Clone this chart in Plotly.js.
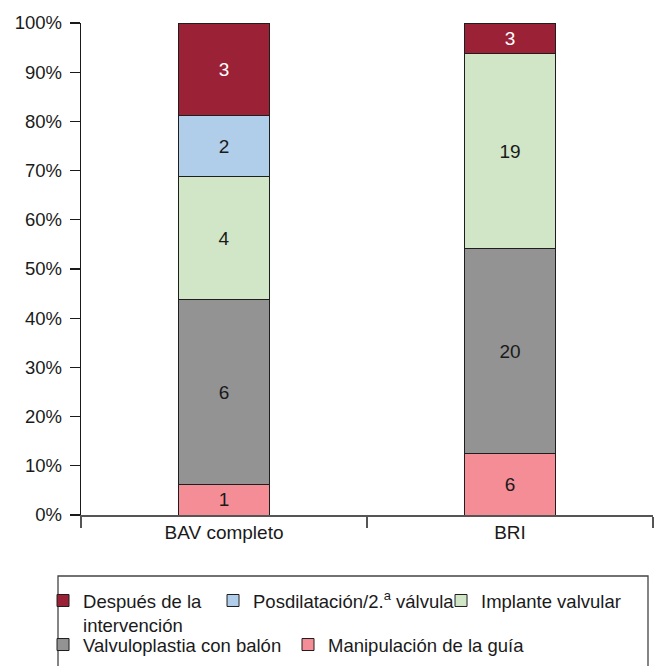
<!DOCTYPE html>
<html>
<head>
<meta charset="utf-8">
<script src="https://cdn.plot.ly/plotly-3.0.1.min.js"></script>
<style>html,body{margin:0;padding:0;background:#fff;}#chart{width:660px;height:666px;}</style>
</head>
<body>
<div id="chart"></div>
<script>
// Categories
const categories = ["BAV completo", "BRI"];
// Series (counts per category), bottom to top of the stack
const manipulacion = [1, 6];
const valvuloplastia = [6, 20];
const implante = [4, 19];
const posdilatacion = [2, 0];
const despues = [3, 3];
// Series names
const seriesNames = {
  manipulacion: "Manipulación de la guía",
  valvuloplastia: "Valvuloplastia con balón",
  implante: "Implante valvular",
  posdilatacion: "Posdilatación/2.<sup>a</sup> válvula",
  despues: "Después de la<br>intervención"
};
const yTickVals = [0, 10, 20, 30, 40, 50, 60, 70, 80, 90, 100];

const FONT = "Liberation Sans, Arial, Helvetica, sans-serif";

function mk(vals, name, color, textColor, legendId) {
  return {
    type: "bar",
    x: categories,
    y: vals,
    name: name,
    text: vals.map(v => String(v)),
    textposition: vals.map(v => v ? "inside" : "none"),
    insidetextanchor: "middle",
    textangle: 0,
    constraintext: "none",
    textfont: {family: FONT, size: 19, color: textColor},
    width: 0.32,
    marker: {color: color, line: {color: "#1e1e1e", width: 1}},
    legend: legendId,
    hoverinfo: "none"
  };
}

const data = [
  mk(manipulacion, seriesNames.manipulacion, "#F48D96", "#1a1a1a", "legend5"),
  mk(valvuloplastia, seriesNames.valvuloplastia, "#939393", "#1a1a1a", "legend4"),
  mk(implante, seriesNames.implante, "#D0E6C6", "#1a1a1a", "legend3"),
  mk(posdilatacion, seriesNames.posdilatacion, "#B0CDEA", "#1a1a1a", "legend2"),
  mk(despues, seriesNames.despues, "#9B2236", "#ffffff", "legend")
];

const legBase = {
  orientation: "h",
  xanchor: "left",
  yanchor: "top",
  bgcolor: "rgba(0,0,0,0)",
  borderwidth: 0,
  valign: "top",
  font: {family: FONT, size: 18.5, color: "#1a1a1a"}
};
const row1 = -0.1361, row2 = -0.2256;

const layout = {
  width: 660,
  height: 666,
  margin: {l: 81, r: 7, t: 23, b: 151, autoexpand: false},
  paper_bgcolor: "#ffffff",
  plot_bgcolor: "#ffffff",
  barmode: "stack",
  barnorm: "percent",
  font: {family: FONT, size: 18.5, color: "#1a1a1a"},
  xaxis: {
    type: "category",
    range: [-0.5, 1.5],
    tickson: "boundaries",
    ticks: "outside",
    ticklen: 11,
    tickwidth: 1.3,
    tickcolor: "#555",
    showline: true,
    linecolor: "#555",
    linewidth: 1.5,
    showgrid: false,
    zeroline: false,
    tickfont: {family: FONT, size: 19, color: "#1a1a1a"},
    fixedrange: true
  },
  yaxis: {
    range: [0, 100],
    tickvals: yTickVals,
    ticktext: yTickVals.map(v => v + "%"),
    ticks: "outside",
    ticklen: 10,
    tickwidth: 1.3,
    tickcolor: "#1a1a1a",
    ticklabelstandoff: 4,
    showline: true,
    linecolor: "#1a1a1a",
    linewidth: 1.3,
    showgrid: false,
    zeroline: false,
    tickfont: {family: FONT, size: 18.5, color: "#1a1a1a"},
    fixedrange: true
  },
  legend: Object.assign({}, legBase, {x: -0.0664, y: row1}),
  legend2: Object.assign({}, legBase, {x: 0.2308, y: row1}),
  legend3: Object.assign({}, legBase, {x: 0.6294, y: row1}),
  legend4: Object.assign({}, legBase, {x: -0.0664, y: row2}),
  legend5: Object.assign({}, legBase, {x: 0.3619, y: row2}),
  shapes: [{
    type: "rect",
    xref: "paper", yref: "paper",
    x0: (58 - 81) / 572, x1: (648 - 81) / 572,
    y0: (515 - 576) / 492, y1: (515 - 668) / 492,
    line: {color: "#444", width: 1.3},
    fillcolor: "rgba(0,0,0,0)",
    layer: "below"
  }],
  showlegend: true
};

Plotly.newPlot("chart", data, layout, {displayModeBar: false, staticPlot: true});
</script>
</body>
</html>
